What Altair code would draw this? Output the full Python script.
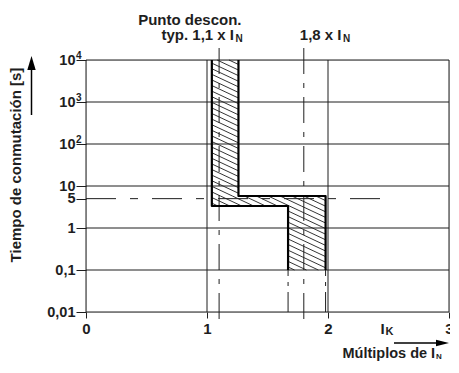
import altair as alt
import pandas as pd
import numpy as np

# ---------------- data ----------------
x_ticks = [0, 1, 2, 3]
y_ticks = [0.01, 0.1, 1, 5, 10, 100, 1000, 10000]
y_tick_labels = ["0,01", "0,1", "1", "5", "10", "10", "10", "10"]
y_tick_exps = ["", "", "", "", "", "2", "3", "4"]
y_grid = [0.01, 0.1, 1, 10, 100, 1000, 10000]

# tripping band: multiples of I_N  vs  switching time [s]
band_x_upper = [1.04, 1.26]      # left / right edge of the upper (long-time) strip
band_x_lower = [1.67, 1.98]      # left / right edge of the lower (short-time) strip
band_t_step = [3.34, 5.78]       # lower / upper edge of the horizontal step
band_t_range = [0.1, 10000]      # bottom / top of the band

trip_typ = 1.1                   # typ. 1,1 x I_N
trip_limit = 1.8                 # 1,8 x I_N
ref_time = 5                     # dashed 5 s line
ref_time_xmax = 2.53

# ---------------- layout ----------------
W, H = 363, 252
FONT = "Liberation Sans"
INK = "#1e1e1e"
X_DOM = [0, 3]
Y_DOM = [0.01, 10000]

X_SCALE = alt.Scale(domain=X_DOM, nice=False, zero=False)
Y_SCALE = alt.Scale(type="log", domain=Y_DOM, nice=False)

lab_map = "{" + ",".join(f"'{v}':'{l}'" for v, l in zip(y_ticks, y_tick_labels)) + "}"
X_AXIS = alt.Axis(values=x_ticks, title=None, grid=False, domain=False,
                  tickSize=6, tickColor=INK, tickWidth=1,
                  labelFont=FONT, labelFontSize=15, labelFontWeight="bold",
                  labelColor=INK, labelPadding=3, labelFlush=False)
Y_AXIS = alt.Axis(values=y_ticks, title=None, grid=False, domain=False,
                  tickSize=10, tickColor=INK, tickWidth=1,
                  labelExpr=f"{lab_map}[''+datum.value]",
                  labelFont=FONT, labelFontSize=14.5, labelFontWeight="bold",
                  labelColor=INK, labelPadding=1, labelOverlap=False,
                  labelBaseline="middle", labelFlush=False)


def X(field="x"):
    return alt.X(f"{field}:Q", scale=X_SCALE, axis=X_AXIS)


def Y(field="t"):
    return alt.Y(f"{field}:Q", scale=Y_SCALE, axis=Y_AXIS)


# ---------------- grid ----------------
hgrid = alt.Chart(pd.DataFrame({"t": y_grid})).mark_rule(
    color=INK, strokeWidth=1).encode(y=Y())
vgrid = alt.Chart(pd.DataFrame({"x": x_ticks})).mark_rule(
    color=INK, strokeWidth=1).encode(x=X())

# ---------------- dashed reference lines ----------------
dash_v = [26, 9, 5, 9]
vlines = alt.Chart(pd.DataFrame({"x": [trip_typ, trip_limit]})).mark_rule(
    color=INK, strokeWidth=1, strokeDash=dash_v).encode(
    x=X(), y=alt.value(-12), y2=alt.value(H + 13))
ext = alt.Chart(pd.DataFrame({"x": band_x_lower,
                              "t": [Y_DOM[0]] * 2,
                              "t2": [band_t_range[0]] * 2})).mark_rule(
    color=INK, strokeWidth=1, strokeDash=[20, 6, 4, 6]).encode(
    x=X(), y=Y(), y2="t2:Q")
hline = alt.Chart(pd.DataFrame({"x": [X_DOM[0]], "x2": [ref_time_xmax],
                                "t": [ref_time]})).mark_rule(
    color=INK, strokeWidth=1, strokeDash=[30, 14, 8, 14]).encode(
    x=X(), x2="x2:Q", y=Y())

# ---------------- hatching of the band (derived from band edges) ----------------
lg0 = np.log10(Y_DOM[0])
ppx = W / (X_DOM[1] - X_DOM[0])
ppd = H / (np.log10(Y_DOM[1]) - lg0)


def u_of(x):
    return (x - X_DOM[0]) * ppx


def v_of(t):
    return (np.log10(t) - lg0) * ppd


rects = [
    (band_x_upper[0], band_x_upper[1], band_t_step[1], band_t_range[1]),
    (band_x_upper[0], band_x_lower[1], band_t_step[0], band_t_step[1]),
    (band_x_lower[0], band_x_lower[1], band_t_range[0], band_t_step[0]),
]
slope, gap = 0.47, 5.6
rows = []
for (xa, xb, ta, tb) in rects:
    u0, u1, v0, v1 = u_of(xa), u_of(xb), v_of(ta), v_of(tb)
    cmin, cmax = v0 + slope * u0, v1 + slope * u1
    k = int(np.floor(cmin / gap))
    while k * gap <= cmax:
        c = k * gap
        ua = max(u0, (c - v1) / slope)
        ub = min(u1, (c - v0) / slope)
        if ub - ua > 0.3:
            rows.append({
                "x": ua / ppx + X_DOM[0], "t": 10 ** ((c - slope * ua) / ppd + lg0),
                "x2": ub / ppx + X_DOM[0], "t2": 10 ** ((c - slope * ub) / ppd + lg0)})
        k += 1
hatch = alt.Chart(pd.DataFrame(rows)).mark_rule(
    color=INK, strokeWidth=0.9).encode(x=X(), y=Y(), x2="x2:Q", y2="t2:Q")

# ---------------- band outline ----------------
outline_df = pd.DataFrame({
    "path": [0, 0, 0, 0, 1, 1, 1, 1],
    "i": [0, 1, 2, 3, 0, 1, 2, 3],
    "x": [band_x_upper[0], band_x_upper[0], band_x_lower[0], band_x_lower[0],
          band_x_lower[1], band_x_lower[1], band_x_upper[1], band_x_upper[1]],
    "t": [band_t_range[1], band_t_step[0], band_t_step[0], band_t_range[0],
          band_t_range[0], band_t_step[1], band_t_step[1], band_t_range[1]],
})
outline = alt.Chart(outline_df).mark_line(
    color="#000", strokeWidth=2.2, strokeJoin="round").encode(
    x=X(), y=Y(), detail="path:N", order="i:Q")

# ---------------- y tick superscripts ----------------
sup_df = pd.DataFrame({"t": y_ticks, "e": y_tick_exps})
sup_df = sup_df[sup_df["e"] != ""]
sups = alt.Chart(sup_df).mark_text(
    font=FONT, fontSize=10, fontWeight="bold", color=INK,
    align="left", baseline="middle", dy=-4).encode(
    x=alt.value(-10), y=Y(), text="e:N")


# ---------------- annotations ----------------
def label(txt, x, y, size=15, align="left", angle=0):
    return alt.Chart(pd.DataFrame({"s": [txt]})).mark_text(
        font=FONT, fontSize=size, fontWeight="bold", color=INK,
        align=align, baseline="middle", angle=angle).encode(
        x=alt.value(x), y=alt.value(y), text="s:N")


texts = [
    label("Punto descon.", 155.5, -40, align="right"),
    label("typ. 1,1 x I", 148, -25, align="right"),
    label("N", 149.5, -21, size=10),
    label("1,8 x I", 255.5, -25, align="right"),
    label("N", 257, -21, size=10),
    label("I", 296.5, 269, align="center"),
    label("K", 299.5, 271.5, size=11),
    label("Múltiplos de", 256.5, 294, size=14.5),
    label("I", 347, 294, size=14.5, align="center"),
    label("N", 350, 297, size=8),
    label("Tiempo de conmutación [s]", -70, 105, size=15, align="center", angle=270),
]

# arrows
arrow_df = pd.DataFrame({"a": [0]})
y_shaft = alt.Chart(arrow_df).mark_rule(color="#000", strokeWidth=1.5).encode(
    x=alt.value(-54.5), y=alt.value(55), y2=alt.value(8))
y_head = alt.Chart(arrow_df).mark_point(
    shape="M0,-1L0.6,1L-0.6,1Z", size=196, filled=True, color="#000", opacity=1).encode(
    x=alt.value(-54.5), y=alt.value(3))
x_shaft = alt.Chart(arrow_df).mark_rule(color="#000", strokeWidth=1.5).encode(
    x=alt.value(308), x2=alt.value(355), y=alt.value(283))
x_head = alt.Chart(arrow_df).mark_point(
    shape="M1,0L-1,-0.5L-1,0.5Z", size=169, filled=True, color="#000", opacity=1).encode(
    x=alt.value(356.5), y=alt.value(283))

chart = alt.layer(
    hgrid, vgrid, hline, vlines, ext, hatch, outline, sups,
    y_shaft, y_head, x_shaft, x_head, *texts
).properties(
    width=W, height=H,
    autosize=alt.AutoSizeParams(type="none"),
    padding={"left": 78, "top": 52, "right": 1, "bottom": 51},
).configure_view(stroke=None).configure(background="white")

chart.save("out.html", embed_options={"renderer": "svg", "actions": False})
